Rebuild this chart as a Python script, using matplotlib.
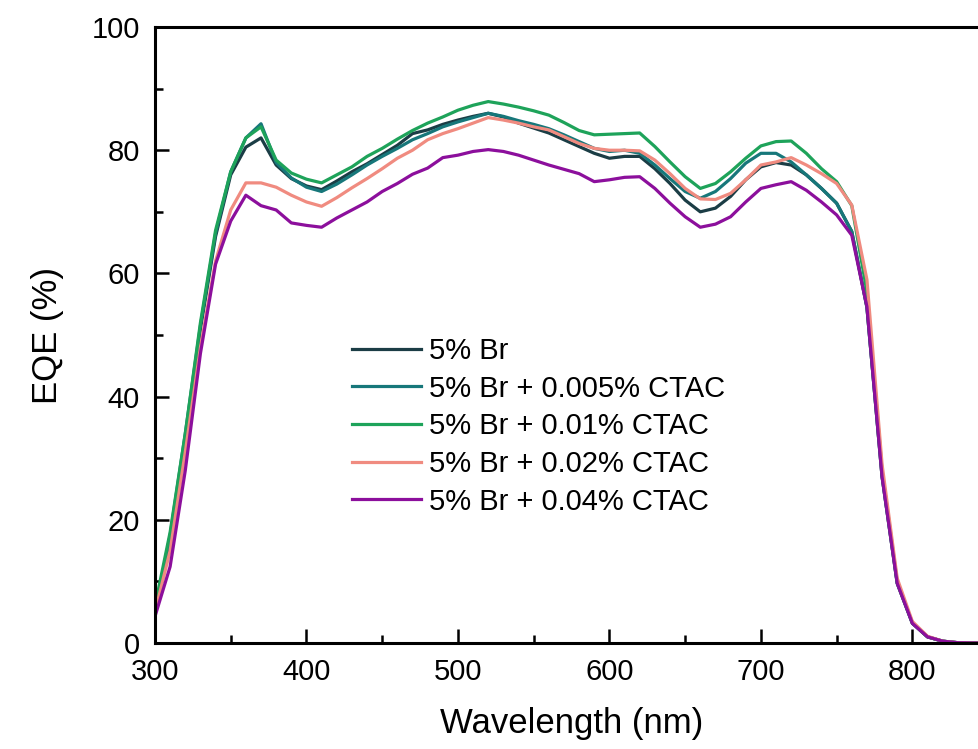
import numpy as np
import matplotlib
matplotlib.use("Agg")
import matplotlib.pyplot as plt
from matplotlib.ticker import MultipleLocator

plt.rcParams['font.family'] = ['Liberation Sans', 'DejaVu Sans']

# wavelength grid, nm
wl = np.arange(300, 860, 10)

eqe_br = [5, 17, 33, 51, 66, 76, 80.5, 82, 77.6, 75.4, 74.2, 73.6, 75, 76.5, 77.8,
          79.3, 80.8, 82.7, 83.3, 84.2, 84.9, 85.5, 86, 85.4, 84.4, 83.6, 82.8, 81.7,
          80.6, 79.5, 78.7, 79, 79, 77, 74.6, 71.9, 70, 70.6, 72.5, 75.2, 77.3, 78,
          77.6, 76, 73.8, 71.4, 66.8, 54.5, 27, 9.7, 3.2, 1, 0.3, 0.05, 0, 0]
eqe_005 = [5, 17.5, 34, 51.5, 66.5, 76.5, 82, 84.3, 78, 75.5, 74, 73.3, 74.5, 76, 77.6,
           79, 80.3, 81.7, 82.7, 83.8, 84.6, 85.3, 86, 85.5, 84.8, 84.2, 83.5, 82.5,
           81.4, 80.3, 79.8, 80, 79.5, 77.6, 75.4, 73.3, 72.2, 73.3, 75.4, 77.9, 79.5,
           79.5, 78.1, 76, 73.8, 71.4, 66.8, 54.5, 27, 9.7, 3.2, 1, 0.3, 0.05, 0, 0]
eqe_01 = [6, 18, 34, 52, 67, 76.5, 82, 83.8, 78.4, 76.3, 75.3, 74.7, 76, 77.3, 79,
          80.3, 81.8, 83.2, 84.4, 85.4, 86.5, 87.3, 87.9, 87.5, 87, 86.4, 85.7, 84.5,
          83.2, 82.5, 82.6, 82.7, 82.8, 80.6, 78.1, 75.7, 73.8, 74.6, 76.5, 78.7, 80.7,
          81.4, 81.5, 79.5, 77, 74.9, 71, 57, 28, 10, 3.3, 1, 0.3, 0.05, 0, 0]
eqe_02 = [5, 15, 31, 48, 62, 70.3, 74.7, 74.7, 74, 72.7, 71.6, 70.9, 72.3, 73.9, 75.4,
          77, 78.7, 80, 81.7, 82.7, 83.5, 84.4, 85.3, 84.9, 84.4, 83.8, 83.3, 82.2,
          81.1, 80.3, 80, 80, 79.9, 78.4, 76.2, 73.8, 72.1, 72, 73, 75.2, 77.6, 78.1,
          78.8, 77.6, 76.2, 74.6, 71.1, 59, 29, 10.5, 3.5, 1.1, 0.3, 0.05, 0, 0]
eqe_04 = [4.3, 12.4, 28, 47, 61.5, 68.5, 72.7, 71, 70.3, 68.2, 67.8, 67.5, 69, 70.3,
          71.6, 73.3, 74.6, 76.1, 77.1, 78.8, 79.2, 79.8, 80.1, 79.8, 79.2, 78.4, 77.6,
          76.9, 76.2, 74.9, 75.2, 75.6, 75.7, 73.8, 71.4, 69.2, 67.5, 68, 69.2, 71.6,
          73.8, 74.4, 74.9, 73.5, 71.6, 69.5, 66.2, 54.6, 27, 9.7, 3.2, 1, 0.3, 0.05, 0, 0]

labels = ['5% Br', '5% Br + 0.005% CTAC', '5% Br + 0.01% CTAC',
          '5% Br + 0.02% CTAC', '5% Br + 0.04% CTAC']
colors = ['#1b3d45', '#17777a', '#1ea35a', '#f08b80', '#8c0f9c']
series = [eqe_br, eqe_005, eqe_01, eqe_02, eqe_04]

fig = plt.figure(figsize=(9.79, 7.49), dpi=100)
ax = fig.add_axes([0.1583, 0.1415, 0.851, 0.8224])

for y, c, lab in zip(series, colors, labels):
    ax.plot(wl, y, color=c, lw=2.3, label=lab)

ax.set_xlim(300, 850)
ax.set_ylim(0, 100)
ax.xaxis.set_major_locator(MultipleLocator(100))
ax.xaxis.set_minor_locator(MultipleLocator(50))
ax.yaxis.set_major_locator(MultipleLocator(20))
ax.yaxis.set_minor_locator(MultipleLocator(10))
ax.tick_params(which='both', direction='in', width=1.8, labelsize=21)
ax.tick_params(which='major', length=10, pad=11)
ax.tick_params(which='minor', length=6)
for s in ax.spines.values():
    s.set_linewidth(2.2)

ax.set_xlabel('Wavelength (nm)', fontsize=25, labelpad=15)
ax.set_ylabel('EQE (%)', fontsize=25, labelpad=20)

ax.legend(loc='upper left', bbox_to_anchor=(0.3596, 0.550),
          bbox_transform=fig.transFigure, frameon=False, fontsize=21,
          handlelength=2.35, handletextpad=0.3, labelspacing=0.33,
          borderpad=0, borderaxespad=0)

fig.savefig('out.png', dpi=100)
